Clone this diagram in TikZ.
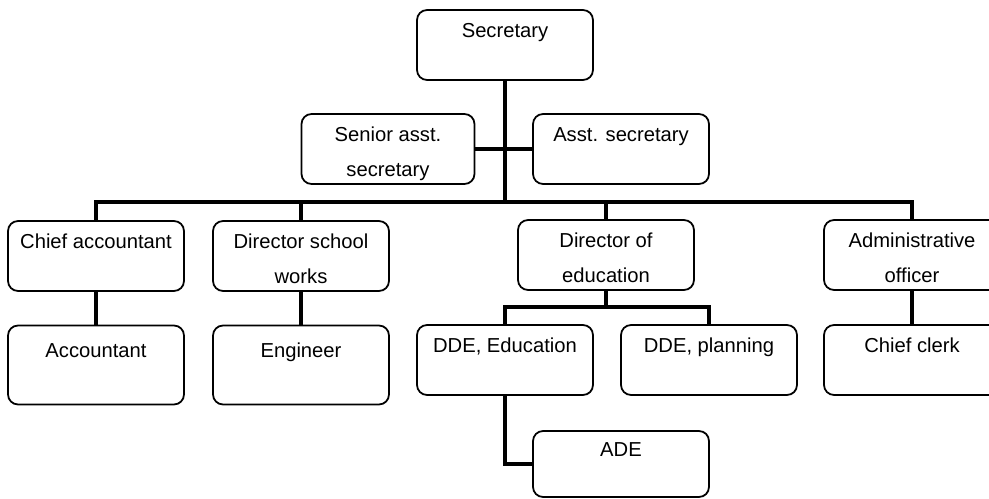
\documentclass[tikz,border=0pt]{standalone}
\usepackage{fontspec}
\setmainfont{Liberation Sans}
\begin{document}
\def\postwd{3.52cm}
\def\lift{\rule{0pt}{14pt}}

\begin{tikzpicture}[x=0.02cm,y=-0.02cm]
\tikzstyle{post}=[draw,line width=1pt,rounded corners=0.2cm,fill=white,minimum width=\postwd,minimum height=1.4cm,align=center,inner sep=0pt,font=\fontsize{11.5}{20}\selectfont,execute at end node={\rule[-2.4pt]{0pt}{2.4pt}}]
\tikzstyle{tall post}=[post,minimum height=1.58cm]
\tikzstyle{link}=[line width=2.6pt]

\useasboundingbox (0,0) rectangle (989,499);
\clip (0,0) rectangle (989,499);

% Top of the chart
\node[post] (sec) at (505,45) {\lift Secretary\\};
\node[post,minimum width=3.46cm] (sas) at (388,149) {\lift Senior asst.\\secretary};
\node[post] (as) at (621,149) {\lift Asst. secretary\\};

% First row under the secretary
\node[post] (L1-1) at (96,256) {\lift Chief accountant\\};
\node[post] (L1-2) at (301,256) {\lift Director school\\works};
\node[post] (L1-3) at (606,255) {\lift Director of\\education};
\node[post] (L1-4) at (912,255) {\lift Administrative\\officer};

% Second row
\node[tall post] (L2-1) at (96,365) {\lift Accountant\\};
\node[tall post] (L2-2) at (301,365) {\lift Engineer\\};
\node[post] (L2-3) at (505,360) {\lift DDE, Education\\};
\node[post] (L2-4) at (709,360) {\lift DDE, planning\\};
\node[post] (L2-5) at (912,360) {\lift Chief clerk\\};
\node[post,minimum height=1.32cm] (ade) at (621,464) {\lift ADE\\};

% Connect the posts
\coordinate (bar) at (505,202);
\coordinate (edubar) at (606,307);
\draw[link] (sec) -- (bar);
\draw[link] (sas) -- (as);
\foreach \dest in {1,...,4}
\draw[link] (bar) -| (L1-\dest.north);
\draw[link] (L1-1) -- (L2-1);
\draw[link] (L1-2) -- (L2-2);
\draw[link] (L1-4) -- (L2-5);
\draw[link] (L1-3) -- (edubar);
\draw[link] (edubar) -| (L2-3.north);
\draw[link] (edubar) -| (L2-4.north);
\draw[link] (L2-3.south) |- (ade.west);
\end{tikzpicture}
\end{document}
